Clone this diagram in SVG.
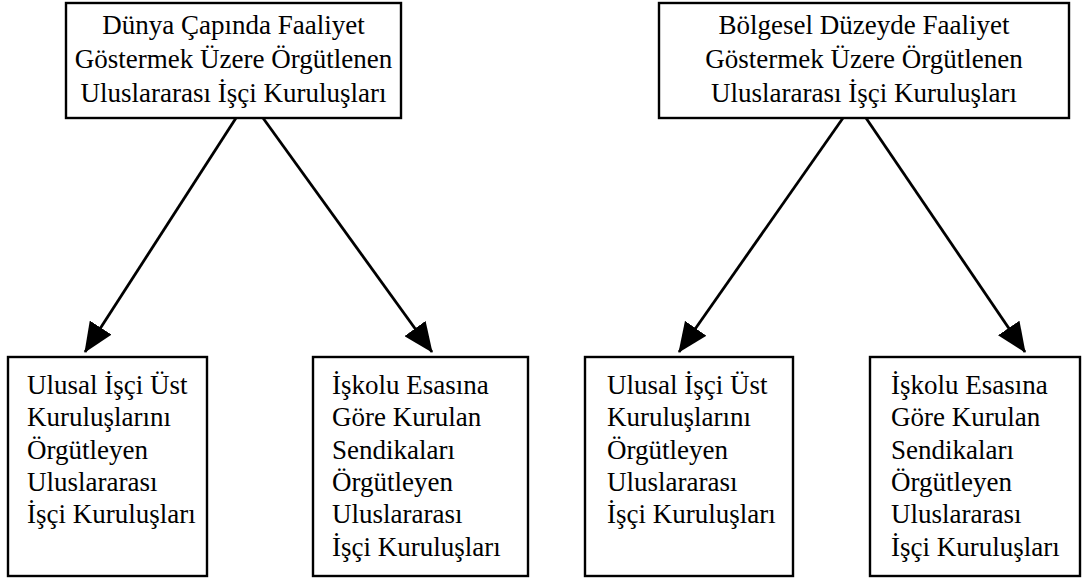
<svg xmlns="http://www.w3.org/2000/svg" width="1084" height="578" viewBox="0 0 1084 578">
<style>
.box{fill:#fff;stroke:#000;stroke-width:2.4}
.t{font-family:"Liberation Serif","Times New Roman",serif;font-size:27px;fill:#000}
.c{text-anchor:middle}
.conn{stroke:#000;stroke-width:2.8;fill:none;marker-end:url(#ah)}
</style>
<defs>
<marker id="ah" viewBox="0 0 30 26" refX="29" refY="13" markerWidth="30" markerHeight="26" orient="auto" markerUnits="userSpaceOnUse">
<path d="M0,0 L30,13 L0,26 Z" fill="#000"/>
</marker>
</defs>
<rect width="1084" height="578" fill="#fff"/>
<g id="connectors">
<line class="conn" x1="236" y1="118" x2="85" y2="352"/>
<line class="conn" x1="263" y1="118" x2="432" y2="352"/>
<line class="conn" x1="843" y1="118" x2="679" y2="352"/>
<line class="conn" x1="866" y1="118" x2="1025" y2="352"/>
</g>
<g id="top-left">
<rect class="box" x="66" y="3" width="335" height="115"/>
<text class="t c" x="233.5" y="34">Dünya Çapında Faaliyet</text>
<text class="t c" x="233.5" y="68">Göstermek Üzere Örgütlenen</text>
<text class="t c" x="233.5" y="102">Uluslararası İşçi Kuruluşları</text>
</g>
<g id="top-right">
<rect class="box" x="659" y="3" width="410" height="115"/>
<text class="t c" x="864" y="34">Bölgesel Düzeyde Faaliyet</text>
<text class="t c" x="864" y="68">Göstermek Üzere Örgütlenen</text>
<text class="t c" x="864" y="102">Uluslararası İşçi Kuruluşları</text>
</g>
<g id="bottom-1">
<rect class="box" x="8" y="357" width="199" height="219"/>
<text class="t" x="27" y="394">Ulusal İşçi Üst</text>
<text class="t" x="27" y="426">Kuruluşlarını</text>
<text class="t" x="27" y="459">Örgütleyen</text>
<text class="t" x="27" y="491">Uluslararası</text>
<text class="t" x="27" y="523">İşçi Kuruluşları</text>
</g>
<g id="bottom-2">
<rect class="box" x="313" y="357" width="215" height="219"/>
<text class="t" x="332" y="394">İşkolu Esasına</text>
<text class="t" x="332" y="426">Göre Kurulan</text>
<text class="t" x="332" y="459">Sendikaları</text>
<text class="t" x="332" y="491">Örgütleyen</text>
<text class="t" x="332" y="523">Uluslararası</text>
<text class="t" x="332" y="556">İşçi Kuruluşları</text>
</g>
<g id="bottom-3">
<rect class="box" x="585" y="357" width="208" height="219"/>
<text class="t" x="607" y="394">Ulusal İşçi Üst</text>
<text class="t" x="607" y="426">Kuruluşlarını</text>
<text class="t" x="607" y="459">Örgütleyen</text>
<text class="t" x="607" y="491">Uluslararası</text>
<text class="t" x="607" y="523">İşçi Kuruluşları</text>
</g>
<g id="bottom-4">
<rect class="box" x="870" y="357" width="210" height="219"/>
<text class="t" x="891" y="394">İşkolu Esasına</text>
<text class="t" x="891" y="426">Göre Kurulan</text>
<text class="t" x="891" y="459">Sendikaları</text>
<text class="t" x="891" y="491">Örgütleyen</text>
<text class="t" x="891" y="523">Uluslararası</text>
<text class="t" x="891" y="556">İşçi Kuruluşları</text>
</g>
</svg>
